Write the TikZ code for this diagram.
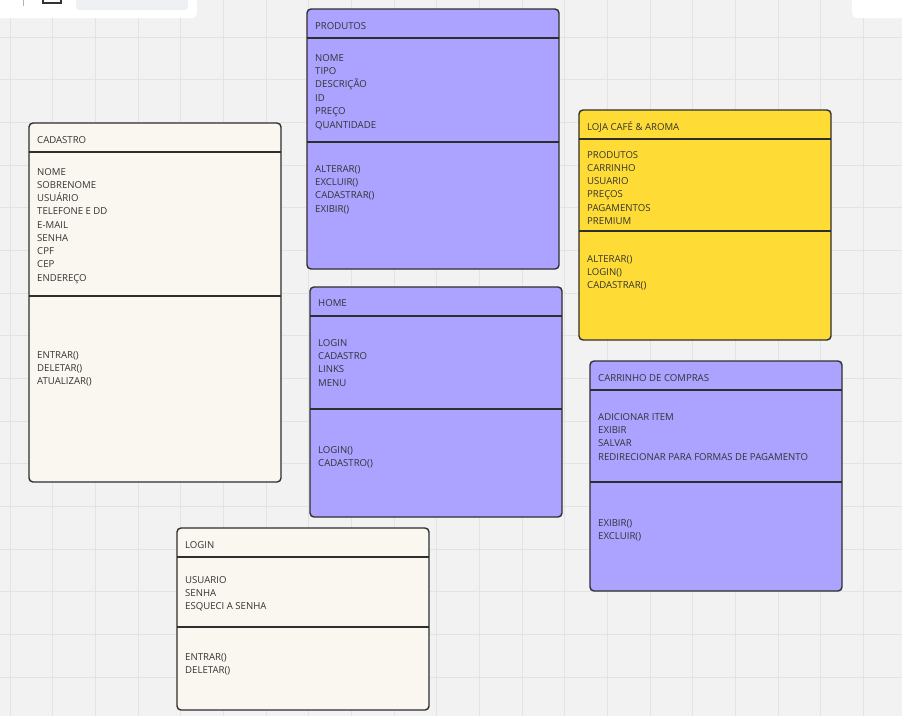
\documentclass[tikz,border=0pt]{standalone}
\usepackage{fontspec}
\setmainfont{Open Sans}
\definecolor{boardbg}{HTML}{F2F2F2}
\definecolor{gridline}{HTML}{E3E3E3}
\definecolor{lineclr}{HTML}{2E2E2E}
\definecolor{textclr}{HTML}{333333}
\definecolor{lavender}{HTML}{ABA3FF}
\definecolor{sunny}{HTML}{FFDC35}
\definecolor{cream}{HTML}{FAF6F0}
\definecolor{pillgray}{HTML}{EEF0F3}

\begin{document}
\begin{tikzpicture}[x=1pt,y=-1pt,
    classbox/.style={draw=lineclr, line width=1.4pt, rounded corners=4pt},
    sep/.style={draw=lineclr, line width=1.4pt},
    item/.style={anchor=west, inner sep=0pt, text height=6.2pt, text depth=0pt,
        yshift=-0.9pt, text=textclr, font=\fontsize{9.6}{11}\selectfont}]
        % board and grid
        \fill[boardbg] (0,0) rectangle (902,716);
        \useasboundingbox (0,0) rectangle (902,716);
        \foreach \i in {0,...,21}
            \draw[gridline, line width=0.8pt] ({10+42.67*\i},0) -- ({10+42.67*\i},716);
        \foreach \j in {0,...,16}
            \draw[gridline, line width=0.8pt] (0,{37+42.67*\j}) -- (902,{37+42.67*\j});

        % toolbar remains at the top
        \fill[white, rounded corners=5pt] (-10,-10) rectangle (197,18);
        \fill[pillgray, rounded corners=3pt] (76,-10) rectangle (188,10);
        \draw[gray!60, line width=0.8pt] (23,0) -- (23,6);
        \draw[black!80, line width=1.4pt] (43,-2) -- (43,3) -- (61,3) -- (61,-2);
        \fill[white, rounded corners=5pt] (852,-10) rectangle (912,18);

        % CADASTRO
        \fill[cream, rounded corners=4pt] (29,123) rectangle (281,482);
        \draw[sep] (29,152) -- (281,152);
        \draw[sep] (29,296) -- (281,296);
        \draw[classbox] (29,123) rectangle (281,482);
        \node[item] (cadastro) at (37,139) {CADASTRO};
        \foreach \t [count=\i] in {NOME,SOBRENOME,USUÁRIO,TELEFONE E DD,E-MAIL,SENHA,CPF,CEP,ENDEREÇO}
            \node[item] (cadastro-a\i) at (37,{171+13.25*(\i-1)}) {\t};
        \foreach \t [count=\i] in {ENTRAR(),DELETAR(),ATUALIZAR()}
            \node[item] (cadastro-m\i) at (37,{354+13.4*(\i-1)}) {\t};

        % PRODUTOS
        \fill[lavender, rounded corners=4pt] (307,9) rectangle (559,269);
        \draw[sep] (307,38) -- (559,38);
        \draw[sep] (307,142) -- (559,142);
        \draw[classbox] (307,9) rectangle (559,269);
        \node[item] (produtos) at (315,25) {PRODUTOS};
        \foreach \t [count=\i] in {NOME,TIPO,DESCRIÇÃO,ID,PREÇO,QUANTIDADE}
            \node[item] (produtos-a\i) at (315,{57+13.4*(\i-1)}) {\t};
        \foreach \t [count=\i] in {ALTERAR(),EXCLUIR(),CADASTRAR(),EXIBIR()}
            \node[item] (produtos-m\i) at (315,{168+13.4*(\i-1)}) {\t};

        % HOME
        \fill[lavender, rounded corners=4pt] (310,287) rectangle (562,517);
        \draw[sep] (310,316) -- (562,316);
        \draw[sep] (310,409) -- (562,409);
        \draw[classbox] (310,287) rectangle (562,517);
        \node[item] (home) at (318,302) {HOME};
        \foreach \t [count=\i] in {LOGIN,CADASTRO,LINKS,MENU}
            \node[item] (home-a\i) at (318,{342+13.4*(\i-1)}) {\t};
        \foreach \t [count=\i] in {LOGIN(),CADASTRO()}
            \node[item] (home-m\i) at (318,{449+13.4*(\i-1)}) {\t};

        % LOJA
        \fill[sunny, rounded corners=4pt] (579,110) rectangle (831,340);
        \draw[sep] (579,139) -- (831,139);
        \draw[sep] (579,231) -- (831,231);
        \draw[classbox] (579,110) rectangle (831,340);
        \node[item] (loja) at (587,126) {LOJA CAFÉ \& AROMA};
        \foreach \t [count=\i] in {PRODUTOS,CARRINHO,USUARIO,PREÇOS,PAGAMENTOS,PREMIUM}
            \node[item] (loja-a\i) at (587,{154+13.3*(\i-1)}) {\t};
        \foreach \t [count=\i] in {ALTERAR(),LOGIN(),CADASTRAR()}
            \node[item] (loja-m\i) at (587,{258+13.3*(\i-1)}) {\t};

        % CARRINHO DE COMPRAS
        \fill[lavender, rounded corners=4pt] (590,361) rectangle (842,591);
        \draw[sep] (590,390) -- (842,390);
        \draw[sep] (590,482) -- (842,482);
        \draw[classbox] (590,361) rectangle (842,591);
        \node[item] (carrinho) at (598,377) {CARRINHO DE COMPRAS};
        \foreach \t [count=\i] in {ADICIONAR ITEM,EXIBIR,SALVAR,REDIRECIONAR PARA FORMAS DE PAGAMENTO}
            \node[item] (carrinho-a\i) at (598,{416+13.4*(\i-1)}) {\t};
        \foreach \t [count=\i] in {EXIBIR(),EXCLUIR()}
            \node[item] (carrinho-m\i) at (598,{522+13.4*(\i-1)}) {\t};

        % LOGIN
        \fill[cream, rounded corners=4pt] (177,528) rectangle (429,710);
        \draw[sep] (177,557) -- (429,557);
        \draw[sep] (177,627) -- (429,627);
        \draw[classbox] (177,528) rectangle (429,710);
        \node[item] (login) at (185,544) {LOGIN};
        \foreach \t [count=\i] in {USUARIO,SENHA,ESQUECI A SENHA}
            \node[item] (login-a\i) at (185,{579+13.4*(\i-1)}) {\t};
        \foreach \t [count=\i] in {ENTRAR(),DELETAR()}
            \node[item] (login-m\i) at (185,{656+13.4*(\i-1)}) {\t};
    \end{tikzpicture}
\end{document}
